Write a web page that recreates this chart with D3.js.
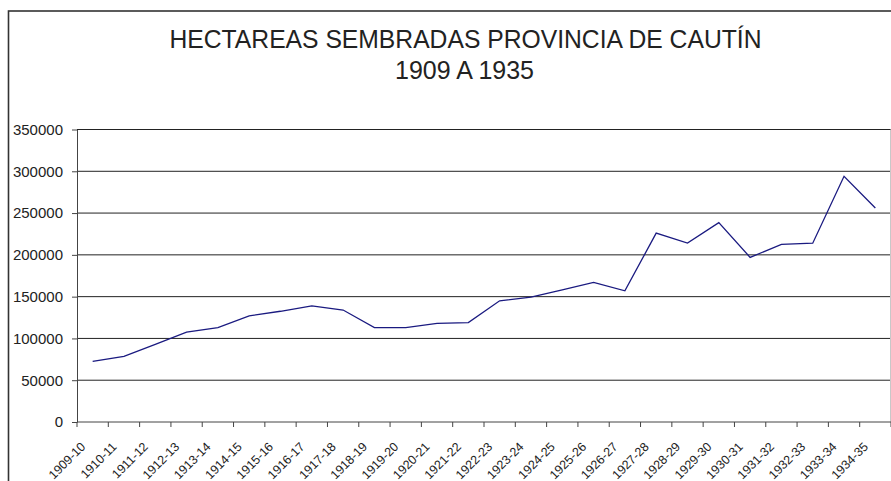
<!DOCTYPE html>
<html>
<head>
<meta charset="utf-8">
<script src="https://cdn.jsdelivr.net/npm/d3@7"></script>
<style>
  html, body { margin: 0; padding: 0; background: #fff; }
  svg { display: block; font-family: "Liberation Sans", Arial, sans-serif; }
</style>
</head>
<body>
<div id="chart"></div>
<script>
// temporadas agricolas
const categories = ["1909-10","1910-11","1911-12","1912-13","1913-14","1914-15","1915-16",
    "1916-17","1917-18","1918-19","1919-20","1920-21","1921-22","1922-23","1923-24",
    "1924-25","1925-26","1926-27","1927-28","1928-29","1929-30","1930-31","1931-32",
    "1932-33","1933-34","1934-35"];

// hectareas sembradas
const hectareas = [72500, 78500, 93000, 107500, 113000, 127000, 132500, 139000, 134000,
    113000, 113000, 118000, 119000, 145000, 149500, 158000, 167000, 157000, 226000,
    214000, 238500, 197000, 212500, 214000, 294000, 256000];

const yTicks = [0, 50000, 100000, 150000, 200000, 250000, 300000, 350000];

const titleLines = ["HECTAREAS SEMBRADAS PROVINCIA DE CAUTÍN", "1909 A 1935"];

const W = 891, H = 481;
const plot = {left: 77, right: 891, top: 129.5, bottom: 422};

const svg = d3.select("#chart").append("svg")
    .attr("width", W)
    .attr("height", H);

// outer chart frame (runs off the picture on the right and bottom)
svg.append("rect")
    .attr("x", 8.5).attr("y", 11)
    .attr("width", 950).attr("height", 550)
    .attr("fill", "#fff")
    .attr("stroke", "#333")
    .attr("stroke-width", 1.6);

// title
svg.append("text")
    .attr("x", 465.5).attr("y", 47.5)
    .attr("text-anchor", "middle")
    .attr("textLength", 592)
    .attr("lengthAdjust", "spacingAndGlyphs")
    .style("font-size", "25px")
    .style("fill", "#222")
    .text(titleLines[0]);

svg.append("text")
    .attr("x", 464.5).attr("y", 79)
    .attr("text-anchor", "middle")
    .attr("textLength", 139)
    .attr("lengthAdjust", "spacingAndGlyphs")
    .style("font-size", "25px")
    .style("fill", "#222")
    .text(titleLines[1]);

const x = d3.scaleBand()
    .domain(categories)
    .range([plot.left, plot.right])
    .padding(0);

const y = d3.scaleLinear()
    .domain([0, 350000])
    .range([plot.bottom, plot.top]);

// gridlines
svg.append("g")
    .selectAll("line")
    .data(yTicks.filter(d => d > 0))
    .enter()
    .append("line")
    .attr("x1", plot.left).attr("x2", plot.right)
    .attr("y1", d => y(d)).attr("y2", d => y(d))
    .attr("stroke", "#222")
    .attr("stroke-width", 1);

// right edge of plot area
svg.append("line")
    .attr("x1", 890.5).attr("x2", 890.5)
    .attr("y1", plot.top).attr("y2", plot.bottom)
    .attr("stroke", "#c8c8c8");

// y axis
const yAxis = svg.append("g")
    .attr("transform", `translate(${plot.left},0)`)
    .call(d3.axisLeft(y).tickValues(yTicks).tickFormat(d3.format("d"))
        .tickSize(5).tickPadding(9).tickSizeOuter(0));
yAxis.select(".domain").attr("stroke", "#444");
yAxis.selectAll(".tick line").attr("stroke", "#444");
yAxis.selectAll("text")
    .style("font-size", "15px")
    .style("fill", "#222")
    .style("font-family", "'Liberation Sans', Arial, sans-serif");

// x axis: line, ticks between categories, rotated labels at centres
svg.append("line")
    .attr("x1", plot.left).attr("x2", plot.right)
    .attr("y1", plot.bottom).attr("y2", plot.bottom)
    .attr("stroke", "#444");

const boundaries = categories.map(d => x(d)).concat([x(categories[categories.length - 1]) + x.bandwidth()]);
svg.append("g")
    .selectAll("line")
    .data(boundaries)
    .enter()
    .append("line")
    .attr("x1", d => d).attr("x2", d => d)
    .attr("y1", plot.bottom).attr("y2", plot.bottom + 5)
    .attr("stroke", "#444");

svg.append("g")
    .selectAll("text")
    .data(categories)
    .enter()
    .append("text")
    .attr("transform", d => `translate(${x(d) + x.bandwidth() / 2 - 6.5},${plot.bottom + 25.5}) rotate(-45)`)
    .attr("text-anchor", "end")
    .style("font-size", "12.5px")
    .style("fill", "#222")
    .text(d => d);

// serie
const line = d3.line()
    .x((d, i) => x(categories[i]) + x.bandwidth() / 2)
    .y(d => y(d));

svg.append("path")
    .datum(hectareas)
    .attr("d", line)
    .attr("fill", "none")
    .attr("stroke", "#1a1a80")
    .attr("stroke-width", 1.3);
</script>
</body>
</html>
